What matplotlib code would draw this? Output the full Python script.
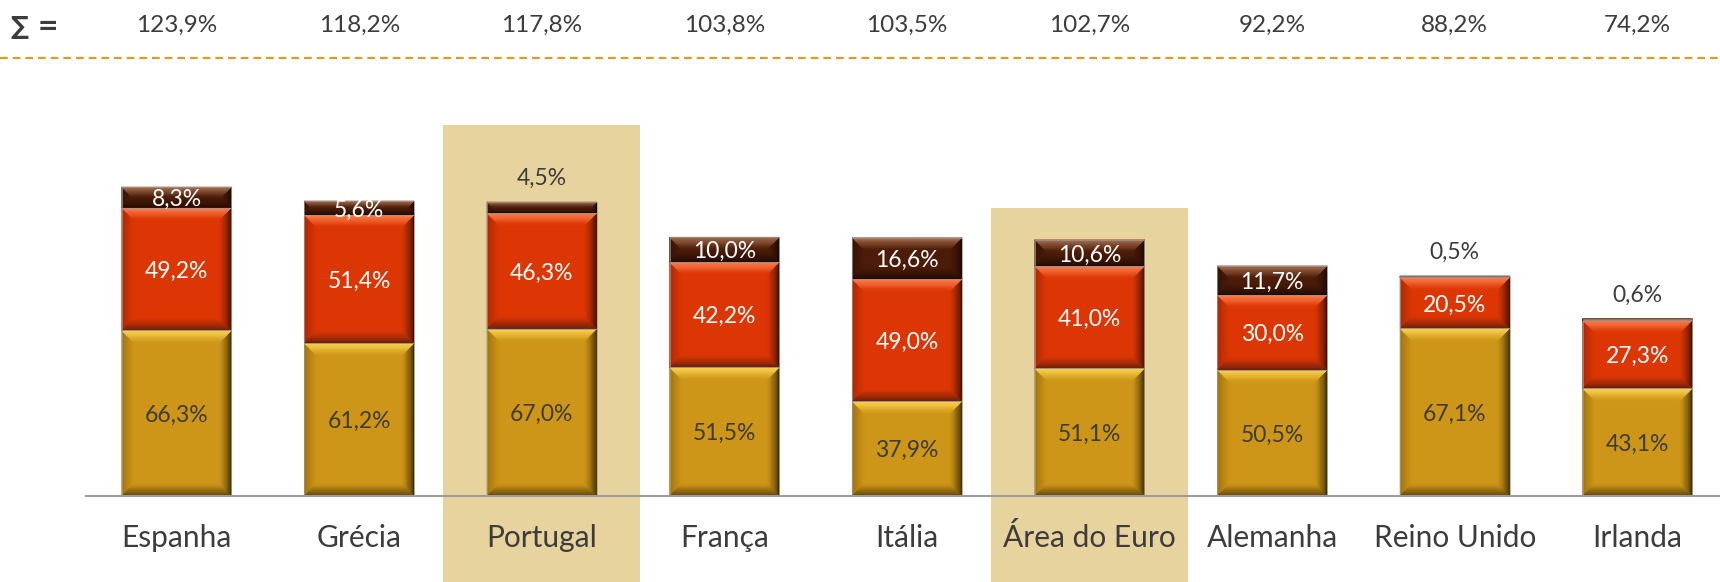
import matplotlib
matplotlib.use("Agg")
import matplotlib.pyplot as plt
from matplotlib.patches import Polygon, Rectangle
from matplotlib.colors import to_rgb
import numpy as np

plt.rcParams['font.family'] = ['Lato', 'DejaVu Sans']

# ---------------- data ----------------
categories = ["Espanha", "Grécia", "Portugal", "França", "Itália",
              "Área do Euro", "Alemanha", "Reino Unido", "Irlanda"]
seg_gold = [66.3, 61.2, 67.0, 51.5, 37.9, 51.1, 50.5, 67.1, 43.1]
seg_red = [49.2, 51.4, 46.3, 42.2, 49.0, 41.0, 30.0, 20.5, 27.3]
seg_brown = [8.3, 5.6, 4.5, 10.0, 16.6, 10.6, 11.7, 0.5, 0.6]
sums = [123.9, 118.2, 117.8, 103.8, 103.5, 102.7, 92.2, 88.2, 74.2]
highlighted = ["Portugal", "Área do Euro"]
highlight_top = [148.6, 115.2]

# ---------------- style ----------------
W, H = 1720, 582
fig = plt.figure(figsize=(W / 100, H / 100), dpi=100)
ax = fig.add_axes([0, 0, 1, 1])
XL = (-0.967, 8.452)
YL = (-34.46, 198.7)
ax.set_xlim(*XL)
ax.set_ylim(*YL)
ax.axis("off")
ppx = W / (XL[1] - XL[0])   # px per x-unit
ppy = H / (YL[1] - YL[0])   # px per y-unit

TXT = "#3C3C3C"
BAR_W = 0.6

styles = {
    "gold":  dict(face="#CE9618", top="#FFD650", bottom="#4E3606", left="#9E700C", right="#221602"),
    "red":   dict(face="#DC3604", top="#FF8450", bottom="#5E1C0C", left="#A82803", right="#240802"),
    "brown": dict(face="#4C1C08", top="#A87050", bottom="#1E0802", left="#341204", right="#140401"),
}

x = np.arange(len(categories))

# highlight boxes
for name, top in zip(highlighted, highlight_top):
    i = categories.index(name)
    ax.add_patch(Rectangle((i - 0.54, YL[0] - 5), 1.08, top - YL[0] + 5,
                           facecolor="#E7D39E", edgecolor="none", zorder=0))


def mix(c1, c2, t):
    a, b = np.array(to_rgb(c1)), np.array(to_rgb(c2))
    return tuple(a * (1 - t) + b * t)


def bevel(rect, st, bpx=12, n=10):
    x0, y0 = rect.get_x(), rect.get_y()
    w, h = rect.get_width(), rect.get_height()
    x1, y1 = x0 + w, y0 + h
    b = min(bpx, h * ppy / 2.0, w * ppx / 2.0)
    bx, by = b / ppx, b / ppy

    def side_pts(side, t):
        if side == "top":
            return [(x0 + t * bx, y1 - t * by), (x1 - t * bx, y1 - t * by)]
        if side == "bottom":
            return [(x0 + t * bx, y0 + t * by), (x1 - t * bx, y0 + t * by)]
        if side == "left":
            return [(x0 + t * bx, y0 + t * by), (x0 + t * bx, y1 - t * by)]
        return [(x1 - t * bx, y0 + t * by), (x1 - t * bx, y1 - t * by)]

    for side in ("left", "right", "bottom", "top"):
        for k in range(n):
            t0, t1 = k / n, (k + 1) / n
            a = side_pts(side, t0)
            c = side_pts(side, t1)
            tm = (t0 + t1) / 2
            if side == "top":
                col = mix(st["top"], st["face"], tm ** 1.1)
            elif side == "bottom":
                col = mix(st["bottom"], st["face"], tm ** 0.8)
            elif side == "right":
                col = mix(st["right"], st["face"], tm ** 0.6)
            else:
                col = mix(st["left"], st["face"], tm ** 0.9)
            poly = Polygon([a[0], a[1], c[1], c[0]], closed=True,
                           facecolor=col, edgecolor=col, lw=0.4, zorder=3)
            ax.add_patch(poly)
    ax.add_patch(Rectangle((x0, y0), w, h, fill=False, edgecolor="#9A9A9A",
                           lw=0.5, zorder=4))


bottoms = np.zeros(len(categories))
layers = [("gold", seg_gold, TXT), ("red", seg_red, "white"), ("brown", seg_brown, "white")]
for key, vals, tcol in layers:
    vals = np.array(vals)
    bars = ax.bar(x, vals, width=BAR_W, bottom=bottoms,
                  color=styles[key]["face"], edgecolor="none", zorder=2)
    for i, (r, v) in enumerate(zip(bars, vals)):
        bevel(r, styles[key])
        lab = f"{v:.1f}%".replace(".", ",")
        if v < 5:
            ax.text(x[i], bottoms[i] + v + 9.5, lab, ha="center", va="center",
                    fontsize=16.5, color=TXT, zorder=6)
        else:
            ax.text(x[i], bottoms[i] + v / 2, lab, ha="center", va="center_baseline",
                    fontsize=16.5, color=tcol, zorder=6)
    bottoms = bottoms + vals

# baseline
ax.plot([-0.5, XL[1]], [0, 0], color="#9C9C9C", lw=1.5, zorder=5,
        solid_capstyle="butt")

# category labels
for i, c in enumerate(categories):
    ax.text(x[i], -20.3, c, ha="center", va="baseline", fontsize=21.5, color=TXT)

# sums row
ax.text(-0.905, 185.0, "∑ =", ha="left", va="baseline", fontsize=18,
        fontweight="bold", color=TXT, family=["DejaVu Sans"])
for i, s in enumerate(sums):
    ax.text(x[i], 186.1, f"{s:.1f}%".replace(".", ","), ha="center", va="baseline",
            fontsize=17.5, color=TXT)

ax.plot([XL[0], XL[1]], [175.5, 175.5], color="#D3A12A", lw=1.6,
        dashes=(3.5, 2.2), zorder=5)

fig.savefig("out.png", dpi=100)
